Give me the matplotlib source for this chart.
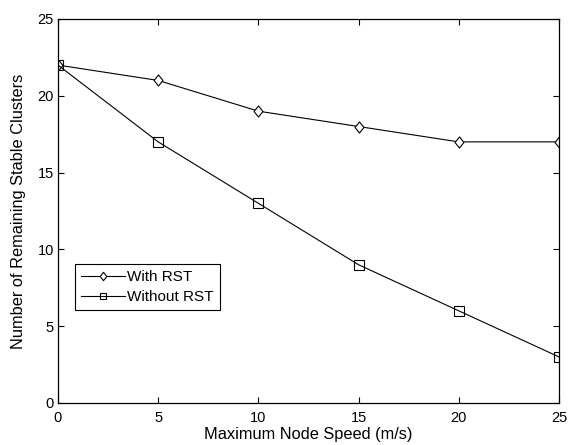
import matplotlib
matplotlib.use("Agg")
import matplotlib.pyplot as plt
from matplotlib.path import Path

speed = [0, 5, 10, 15, 20, 25]
with_rst = [22, 21, 19, 18, 17, 17]
without_rst = [22, 17, 13, 9, 6, 3]
xticks = [0, 5, 10, 15, 20, 25]
yticks = [0, 5, 10, 15, 20, 25]

plt.rcParams['font.family'] = ['Liberation Sans', 'DejaVu Sans']
plt.rcParams['font.size'] = 11

diamond = Path([(0, 1), (0.8, 0), (0, -1), (-0.8, 0), (0, 1)],
               [Path.MOVETO, Path.LINETO, Path.LINETO, Path.LINETO, Path.CLOSEPOLY])

fig = plt.figure(figsize=(5.68, 4.45), dpi=100)
ax = fig.add_axes([58/568, 1-403/445, (559-58)/568, (403-19)/445])

ax.plot(speed, with_rst, color='black', lw=0.8, marker=diamond, markersize=8,
        markerfacecolor='white', markeredgecolor='black', markeredgewidth=0.8, label='With RST')
ax.plot(speed, without_rst, color='black', lw=0.8, marker='s', markersize=6.5,
        markerfacecolor='none', markeredgecolor='black', markeredgewidth=0.8, label='Without RST')

ax.set_xlim(0, 25)
ax.set_ylim(0, 25)
ax.set_xticks(xticks)
ax.set_yticks(yticks)
ax.tick_params(axis='both', direction='in', top=True, right=True, length=4, width=0.8, labelsize=10.5)
ax.tick_params(axis='x', pad=5.5)
ax.tick_params(axis='y', pad=3)
for s in ax.spines.values():
    s.set_linewidth(0.9)
ax.set_xlabel('Maximum Node Speed (m/s)', fontsize=11.8, labelpad=2)
ax.set_ylabel('Number of Remaining Stable Clusters', fontsize=11.8, labelpad=8)

leg = ax.legend(loc='lower left', bbox_to_anchor=(0.034, 0.242), frameon=True, fancybox=False,
                edgecolor='black', framealpha=1, borderpad=0.4, handlelength=2.9,
                handletextpad=0.1, labelspacing=0.4, borderaxespad=0, fontsize=11,
                markerscale=0.75)
leg.get_frame().set_linewidth(0.8)

fig.savefig('out.png', dpi=100)
